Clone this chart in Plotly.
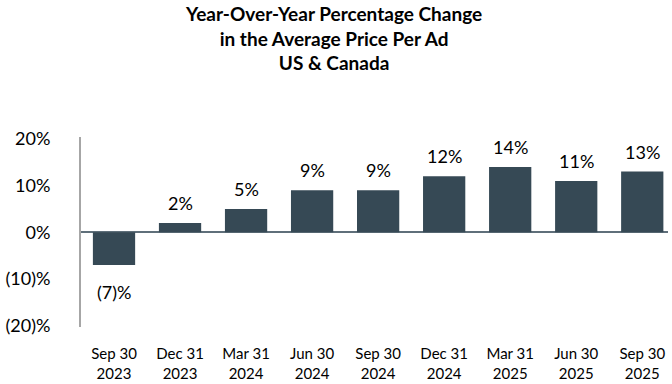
import plotly.graph_objects as go

categories = ["Sep 30<br>2023", "Dec 31<br>2023", "Mar 31<br>2024", "Jun 30<br>2024",
              "Sep 30<br>2024", "Dec 31<br>2024", "Mar 31<br>2025", "Jun 30<br>2025",
              "Sep 30<br>2025"]
values = [-7, 2, 5, 9, 9, 12, 14, 11, 13]
value_labels = ["(7)%", "2%", "5%", "9%", "9%", "12%", "14%", "11%", "13%"]
tick_vals = [-20, -10, 0, 10, 20]
tick_text = ["(20)%", "(10)%", "0%", "10%", "20%"]
title_text = "<b>Year-Over-Year Percentage Change<br>in the Average Price Per Ad<br>US &amp; Canada</b>"

FONT = "Lato, Carlito, Calibri, sans-serif"
BAR = "#364955"

fig = go.Figure()
fig.add_trace(go.Bar(x=categories, y=values, marker_color=BAR, marker_line_width=0,
                     hoverinfo="skip"))

for c, v, t in zip(categories, values, value_labels):
    fig.add_annotation(x=c, y=v, text=t, showarrow=False,
                       yanchor="bottom" if v >= 0 else "top",
                       yshift=7 if v >= 0 else -14,
                       font=dict(family=FONT, size=18, color="#000000"))

fig.add_annotation(text=title_text, xref="paper", yref="paper", x=0.431, y=1.522,
                   xanchor="center", yanchor="middle", showarrow=False, align="center",
                   font=dict(family=FONT, size=19, color="#000000"))

fig.update_layout(
    width=672, height=384,
    margin=dict(l=81, r=4, t=137, b=57),
    paper_bgcolor="white", plot_bgcolor="white",
    showlegend=False, bargap=0.36,
    xaxis=dict(range=[-0.5, 8.39], showline=False, showgrid=False, ticks="",
               automargin=False,
               tickfont=dict(family=FONT, size=15, color="#000000"),
               ticklabelstandoff=16),
    yaxis=dict(range=[-20.3, 20.4], tickvals=tick_vals, ticktext=tick_text,
               showgrid=False, showline=True, linecolor="#a6a6a6", linewidth=2,
               zeroline=True, zerolinecolor="#5f6f7a", zerolinewidth=2,
               ticks="", ticklabelstandoff=25, automargin=False,
               tickfont=dict(family=FONT, size=18, color="#000000")),
)

fig.write_html("out.html", config={"displayModeBar": False},
               post_script="document.body.style.margin='0';")
